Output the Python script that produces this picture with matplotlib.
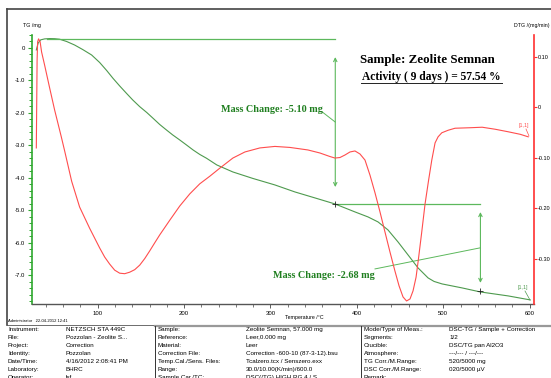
import matplotlib
matplotlib.use('Agg')
import matplotlib.pyplot as plt
from matplotlib.ticker import MultipleLocator
from matplotlib.lines import Line2D

W, H = 551, 378

# TG curve (mg)
tg_temp = [29.0, 31.1, 34.0, 38.6, 44.4, 50.2, 56.0, 64.1, 73.3, 82.6, 93.0, 102.3, 110.4,
           117.7, 125.5, 133.3, 140.6, 148.7, 156.8, 164.1, 171.8, 179.6, 186.9, 195.0, 202.8,
           210.4, 218.2, 226.0, 237.9, 256.4, 279.6, 305.1, 328.3, 351.5, 374.6, 397.8, 412.9,
           424.5, 436.0, 447.6, 459.2, 470.8, 482.4, 489.3, 498.6, 521.8, 542.7, 575.1, 600.6]
tg_mass = [-0.06, 0.15, 0.25, 0.28, 0.29, 0.286, 0.27, 0.20, 0.092, -0.046, -0.215, -0.446,
           -0.692, -0.932, -1.169, -1.394, -1.6, -1.806, -1.985, -2.163, -2.354, -2.523, -2.677,
           -2.831, -2.985, -3.138, -3.277, -3.394, -3.6, -3.815, -4.015, -4.215, -4.431, -4.615,
           -4.8, -5.046, -5.2, -5.354, -5.6, -5.969, -6.369, -6.769, -7.077, -7.185, -7.262,
           -7.385, -7.508, -7.631, -7.754]

# DTG curve (mg/min)
dtg_temp = [29.0, 29.9, 30.5, 31.6, 33.4, 35.1, 38.6, 44.4, 50.2, 57.9, 61.8, 69.9, 79.1, 90.7,
            102.3, 108.1, 113.9, 119.7, 125.5, 131.3, 137.1, 142.9, 148.7, 154.5, 160.2, 166.0,
            171.9, 183.5, 195.0, 206.6, 218.2, 229.8, 241.4, 256.5, 270.4, 287.7, 305.1, 322.5,
            343.3, 357.2, 368.8, 374.6, 380.4, 386.2, 392.0, 397.8, 403.6, 409.4, 415.2, 421.0,
            426.8, 432.6, 438.3, 444.1, 448.8, 453.4, 457.5, 461.5, 465.0, 468.5, 471.1, 474.9,
            478.9, 483.0, 486.7, 490.5, 494.0, 498.3, 505.6, 513.6, 531.1, 545.0, 560.1, 575.1,
            589.0, 598.3]
dtg_val = [-0.081, 0.093, 0.129, 0.135, 0.129, 0.109, 0.083, 0.038, -0.006, -0.059, -0.087,
           -0.147, -0.198, -0.240, -0.279, -0.297, -0.311, -0.323, -0.329, -0.330, -0.327,
           -0.322, -0.313, -0.300, -0.285, -0.269, -0.253, -0.224, -0.196, -0.172, -0.152,
           -0.137, -0.121, -0.101, -0.089, -0.081, -0.078, -0.080, -0.085, -0.091, -0.098,
           -0.101, -0.100, -0.095, -0.089, -0.087, -0.093, -0.105, -0.135, -0.170, -0.208,
           -0.248, -0.287, -0.325, -0.354, -0.376, -0.384, -0.380, -0.364, -0.337, -0.303,
           -0.250, -0.192, -0.145, -0.105, -0.071, -0.059, -0.051, -0.046, -0.042, -0.041,
           -0.040, -0.044, -0.049, -0.054, -0.059]

# mass change steps
step_start = 0.29
step_temp = [375, 543]
mass_change = [-5.10, -2.68]

x_ticks = [100, 200, 300, 400, 500, 600]
tg_ticks = [0, -1, -2, -3, -4, -5, -6, -7]
tg_ticklabels = ['0', '-1.0', '-2.0', '-3.0', '-4.0', '-5.0', '-6.0', '-7.0']
dtg_ticks = [0.10, 0, -0.10, -0.20, -0.30]
dtg_ticklabels = ['0.10', '0', '-0.10', '-0.20', '-0.30']

col1_labels = ["Instrument:", "File:", "Project:", "Identity:", "Date/Time:", "Laboratory:", "Operator:"]
col1_values = ["NETZSCH STA 449C", "Pozzolan - Zeolite S...", "Correction", "Pozzolan",
               "4/16/2012 2:08:41 PM", "BHRC", "lsf"]
col2_labels = ["Sample:", "Reference:", "Material:", "Correction File:", "Temp.Cal./Sens. Files:",
               "Range:", "Sample Car./TC:"]
col2_values = ["Zeolite Semnan, 57.000 mg", "Leer,0.000 mg", "Leer", "Correction -600-10 (87-3-12).bsu",
               "Tcalzero.tcx / Senszero.exx", "30.0/10.00(K/min)/600.0", "DSC(/TG) HIGH RG 4 / S"]
col3_labels = ["Mode/Type of Meas.:", "Segments:", "Crucible:", "Atmosphere:", "TG Corr./M.Range:",
               "DSC Corr./M.Range:", "Remark:"]
col3_values = ["DSC-TG / Sample + Correction", "1/2", "DSC/TG pan Al2O3", "---/--- / ---/---",
               "520/5000 mg", "020/5000 \u00b5V", ""]

GREEN = '#4e9a4e'
GREEN_L = '#5cb85c'
GREEN_T = '#1f7f1f'
RED = '#ff4d4d'
SERIF = 'Liberation Serif'
SANS = 'Liberation Sans'


def px(x, y):
    return x / W, 1 - y / H


fig = plt.figure(figsize=(W / 100, H / 100), dpi=100)
l, b = px(32, 304)
ax = fig.add_axes([l, b, (534 - 32) / W, (304 - 35) / H])
ax2 = ax.twinx()

ax.plot(tg_temp, tg_mass, color=GREEN, lw=0.8)
ax2.plot(dtg_temp, dtg_val, color=RED, lw=0.8)

ax.set_xlim(24, 605)
ax.set_ylim(-7.88, 0.4)
ax2.set_ylim(-0.39, 0.1426)

for s in ['top', 'right']:
    ax.spines[s].set_visible(False)
for s in ['top', 'left', 'bottom']:
    ax2.spines[s].set_visible(False)
ax.spines['left'].set_color('#2fa82f')
ax.spines['left'].set_linewidth(1.2)
ax.spines['bottom'].set_color('#555555')
ax.spines['bottom'].set_linewidth(1.0)
ax2.spines['right'].set_color('#ff3030')
ax2.spines['right'].set_linewidth(1.2)

ax.set_xticks(x_ticks)
ax.set_xticklabels([str(t) for t in x_ticks], fontsize=4.3, family=SANS)
ax.xaxis.set_minor_locator(MultipleLocator(20))
ax.set_yticks(tg_ticks)
ax.set_yticklabels(tg_ticklabels, fontsize=4.3, family=SANS)
ax.yaxis.set_minor_locator(MultipleLocator(0.2))
ax.tick_params(axis='x', which='major', length=3, width=0.6, color='#444444', pad=2)
ax.tick_params(axis='x', which='minor', length=2, width=0.5, color='#444444')
ax.tick_params(axis='y', which='major', length=3, width=0.8, color='#2fa82f', pad=2)
ax.tick_params(axis='y', which='minor', length=2, width=0.7, color='#2fa82f')
ax2.set_yticks(dtg_ticks)
ax2.set_yticklabels(dtg_ticklabels, fontsize=4.0, family=SANS)
ax2.tick_params(axis='y', length=2, width=0.8, color='#ff3030', pad=1)

# mass change annotations
levels = [step_start]
for dm in mass_change:
    levels.append(levels[-1] + dm)

ax.plot([41, step_temp[0]], [levels[0], levels[0]], color=GREEN_L, lw=0.9)
ax.plot([step_temp[0], step_temp[1]], [levels[1], levels[1]], color=GREEN_L, lw=0.9)
ax.annotate('', xy=(step_temp[0], -0.28), xytext=(step_temp[0], -4.28),
            arrowprops=dict(arrowstyle='<->', color=GREEN_L, lw=0.8, mutation_scale=6,
                            shrinkA=0, shrinkB=0))
ax.annotate('', xy=(step_temp[1], -5.05), xytext=(step_temp[1], -7.23),
            arrowprops=dict(arrowstyle='<->', color=GREEN_L, lw=0.8, mutation_scale=6,
                            shrinkA=0, shrinkB=0))
ax.plot(step_temp, levels[1:], '+', color='#222222', ms=5, mew=0.6)
ax.plot([360, step_temp[0]], [-1.97, -2.28], color=GREEN_L, lw=0.7)
ax.plot([421, step_temp[1]], [-6.8, -6.15], color=GREEN_L, lw=0.7)
ax.text(242.5, -1.9, 'Mass Change: %.2f mg' % mass_change[0], ha='left', va='center',
        fontsize=7.3, fontweight='bold', family=SERIF, color=GREEN_T)
ax.text(303, -7.0, 'Mass Change: %.2f mg' % mass_change[1], ha='left', va='center',
        fontsize=7.3, fontweight='bold', family=SERIF, color=GREEN_T)

# title block
fig.text(*px(427, 60), 'Sample: Zeolite Semnan', ha='center', va='center',
         fontsize=9.4, fontweight='bold', family=SERIF)
fig.text(*px(431, 77), 'Activity ( 9 days ) = 57.54 %', ha='center', va='center',
         fontsize=8.3, fontweight='bold', family=SERIF)
fig.add_artist(Line2D([361 / W, 502 / W], [1 - 82.5 / H] * 2, color='#222222', lw=0.7))

# axis labels
fig.text(*px(23, 25), 'TG /mg', fontsize=3.8, family=SANS, va='center')
fig.text(*px(514, 25), 'DTG /(mg/min)', fontsize=3.8, family=SANS, va='center')
fig.text(*px(285, 318), 'Temperature /\u00b0C', fontsize=3.8, family=SANS, va='center')

# segment markers
fig.text(*px(519, 125), '[1,1]', fontsize=3.8, family=SANS, color=RED, va='center')
fig.add_artist(Line2D([526 / W, 529 / W], [1 - 129 / H, 1 - 136 / H], color=RED, lw=0.5))
fig.text(*px(518, 287), '[1,1]', fontsize=3.8, family=SANS, color=GREEN, va='center')
fig.add_artist(Line2D([525 / W, 530 / W], [1 - 291 / H, 1 - 300 / H], color=GREEN, lw=0.5))

# frame and table
fig.add_artist(Line2D([7 / W, 1], [1 - 9 / H] * 2, color='#444444', lw=1.2))
fig.add_artist(Line2D([7 / W] * 2, [1 - 9 / H, 1 - 325 / H], color='#444444', lw=1.2))
fig.add_artist(Line2D([7 / W, 155 / W], [1 - 325 / H] * 2, color='#555555', lw=0.6))
fig.add_artist(Line2D([155 / W, 1], [1 - 326 / H] * 2, color='#999999', lw=1.6))
for xs in [155, 361]:
    fig.add_artist(Line2D([xs / W] * 2, [1 - 326 / H, 0], color='#333333', lw=0.7))
fig.text(*px(8, 321.5), 'Administrator   22-04-2012 12:41', fontsize=3.0, family=SANS, va='center')

cols = [(8, 66, col1_labels, col1_values),
        (158, 246, col2_labels, col2_values),
        (364, 449, col3_labels, col3_values)]
for xl, xv, labs, vals in cols:
    for i, (lab, val) in enumerate(zip(labs, vals)):
        y = 329.5 + 8 * i
        fig.text(*px(xl, y), lab, fontsize=4.5, family=SANS, va='center')
        fig.text(*px(xv, y), val, fontsize=4.5, family=SANS, va='center')

fig.savefig('out.png', dpi=100)
